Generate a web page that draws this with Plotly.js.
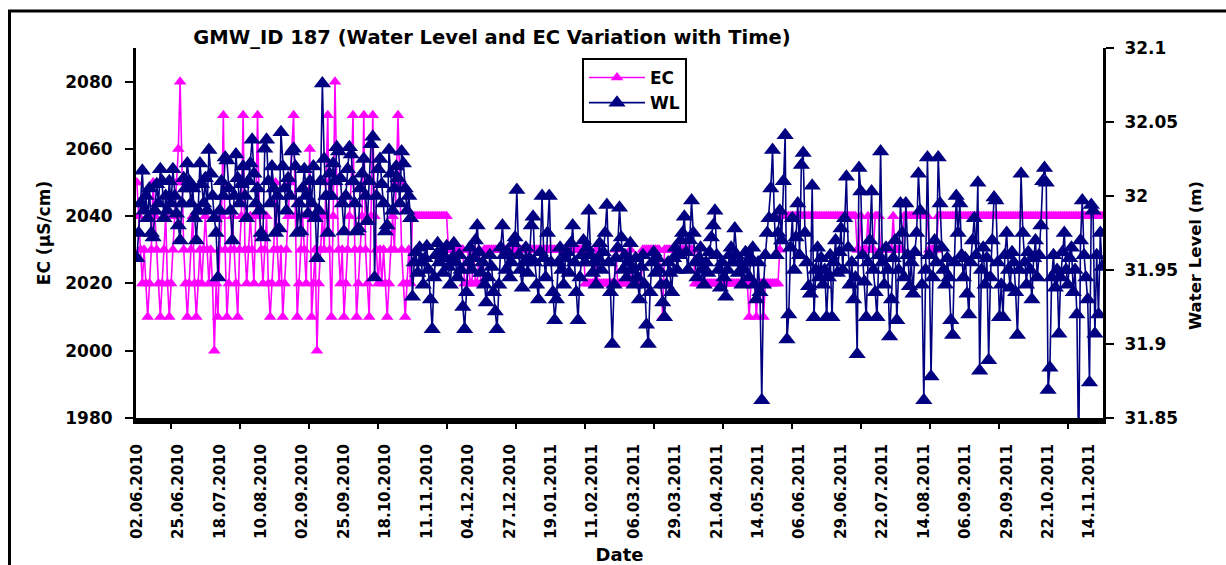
<!DOCTYPE html>
<html><head><meta charset="utf-8">
<script src="https://cdn.plot.ly/plotly-3.0.1.min.js"></script>
<style>html,body{margin:0;padding:0;background:#fff;}#chart{width:1226px;height:565px;}</style>
</head><body><div id="chart"></div>
<script>
// ---- categories (daily readings; one date missing in the record) ----
const startDate = '2010-06-02';
const missingDates = ['01.11.2010'];
const tickLabels = ['02.06.2010','25.06.2010','18.07.2010','10.08.2010','02.09.2010','25.09.2010','18.10.2010','11.11.2010','04.12.2010','27.12.2010','19.01.2011','11.02.2011','06.03.2011','29.03.2011','21.04.2011','14.05.2011','06.06.2011','29.06.2011','22.07.2011','14.08.2011','06.09.2011','29.09.2011','22.10.2011','14.11.2011'];
const ecTicks = [1980,2000,2020,2040,2060,2080];
const wlTicks = [31.85,31.9,31.95,32,32.05,32.1];
const wlTickText = ['31.85','31.9','31.95','32','32.05','32.1'];

// ---- EC (µS/cm) ----
const ec = [
2050,2040,2030,2020,2030,2020,2010,2020,2030,2050,
2040,2030,2020,2010,2020,2030,2040,2020,2010,2020,
2030,2040,2050,2060,2080,2050,2030,2020,2010,2020,
2030,2040,2020,2010,2020,2030,2020,2030,2040,2030,
2020,2030,2020,2000,2020,2010,2030,2040,2070,2030,
2010,2020,2030,2040,2030,2020,2010,2030,2040,2070,
2030,2020,2030,2040,2030,2020,2040,2070,2040,2030,
2020,2030,2040,2020,2010,2020,2030,2050,2030,2020,
2030,2010,2020,2030,2040,2050,2060,2070,2040,2010,
2020,2030,2040,2030,2020,2040,2060,2010,2020,2030,
2000,2020,2030,2040,2030,2050,2070,2030,2010,2040,
2080,2050,2030,2020,2030,2010,2020,2030,2040,2050,
2070,2030,2010,2020,2030,2040,2070,2030,2020,2010,
2040,2070,2040,2030,2020,2030,2020,2030,2020,2010,
2020,2030,2040,2030,2050,2070,2050,2030,2020,2010,
2020,2030,2020,2040,2040,2040,2040,2040,2040,2040,
2040,2040,2040,2040,2040,2040,2040,2040,2040,2040,
2040,2040,2040,2030,2030,2030,2030,2030,2030,2030,
2030,2030,2020,2020,2030,2020,2020,2030,2020,2020,
2030,2020,2020,2030,2030,2030,2030,2030,2030,2030,
2030,2030,2030,2030,2030,2030,2030,2030,2030,2030,
2030,2030,2030,2030,2030,2030,2030,2030,2030,2030,
2030,2030,2030,2030,2030,2030,2030,2030,2030,2030,
2030,2030,2030,2030,2030,2030,2030,2030,2030,2030,
2030,2030,2030,2030,2030,2030,2030,2030,2030,2020,
2020,2020,2020,2020,2020,2030,2020,2020,2020,2020,
2020,2020,2020,2020,2020,2020,2030,2020,2020,2020,
2020,2020,2020,2020,2030,2020,2020,2020,2020,2020,
2020,2030,2030,2030,2030,2030,2030,2030,2030,2030,
2030,2020,2010,2030,2030,2030,2030,2030,2030,2030,
2030,2030,2030,2030,2030,2030,2030,2030,2030,2030,
2020,2020,2020,2020,2020,2020,2020,2020,2020,2020,
2020,2020,2020,2020,2020,2020,2020,2020,2020,2020,
2020,2020,2020,2020,2020,2020,2020,2020,2020,2020,
2010,2020,2020,2020,2010,2020,2020,2020,2010,2020,
2020,2020,2020,2020,2020,2020,2020,2030,2040,2040,
2040,2040,2040,2040,2040,2040,2040,2040,2040,2040,
2040,2040,2040,2040,2040,2040,2040,2040,2040,2040,
2040,2040,2040,2040,2040,2040,2040,2040,2040,2040,
2040,2040,2040,2040,2040,2040,2040,2040,2040,2040,
2030,2030,2040,2030,2030,2030,2040,2030,2030,2030,
2040,2040,2040,2030,2030,2030,2030,2030,2030,2030,
2040,2030,2030,2030,2030,2030,2040,2040,2040,2040,
2040,2040,2040,2040,2040,2040,2040,2040,2040,2040,
2030,2030,2030,2030,2030,2040,2040,2040,2040,2040,
2040,2040,2040,2040,2040,2040,2040,2040,2040,2040,
2040,2040,2040,2040,2040,2040,2040,2040,2040,2040,
2040,2040,2040,2040,2040,2040,2040,2040,2040,2040,
2040,2040,2040,2040,2040,2040,2040,2040,2040,2040,
2040,2040,2040,2040,2040,2040,2040,2040,2040,2040,
2040,2040,2040,2040,2040,2040,2040,2040,2040,2040,
2040,2040,2040,2040,2040,2040,2040,2040,2040,2040,
2040,2040,2040,2040,2040,2040,2040,2040,2040,2040,
2040,2040,2040,2040,2040,2040,2040
];

// ---- Water level (m) ----
const wl = [
31.958,31.975,31.995,32.017,31.990,32.000,31.985,32.005,31.975,31.972,
31.990,32.008,31.995,32.018,32.010,31.985,32.000,31.990,32.010,31.995,
32.018,32.000,31.988,31.980,31.970,31.995,32.012,32.005,32.022,32.010,
31.995,32.005,31.985,31.970,31.990,32.022,32.008,31.995,32.012,31.990,
32.031,32.015,32.000,31.985,31.975,31.945,31.990,32.010,32.000,32.026,
32.024,32.005,31.990,31.970,32.000,32.028,32.012,31.995,32.008,32.020,
32.000,31.985,32.010,32.022,32.038,32.015,31.995,32.005,31.990,31.975,
31.972,32.032,32.038,32.010,31.995,32.020,32.005,31.975,32.000,31.978,
32.043,32.020,32.005,31.990,32.012,32.000,32.030,32.032,32.020,31.975,
31.995,31.976,32.005,32.018,32.000,31.988,32.010,31.995,32.020,31.985,
31.958,31.990,32.010,32.076,32.025,32.000,31.975,32.015,32.000,32.022,
32.010,32.033,32.030,32.012,31.995,31.976,32.000,32.018,32.033,32.028,
32.010,31.995,31.976,31.978,32.005,32.015,32.025,32.000,31.983,32.010,
32.035,32.040,31.945,32.000,32.018,32.025,32.008,31.995,31.976,31.980,
32.031,32.015,31.990,32.005,32.020,32.012,31.995,32.030,32.022,32.005,
31.990,32.000,31.985,31.932,31.955,31.962,31.948,31.965,31.955,31.940,
31.958,31.966,31.950,31.930,31.910,31.945,31.960,31.968,31.955,31.962,
31.948,31.958,31.966,31.952,31.940,31.958,31.968,31.955,31.945,31.960,
31.950,31.925,31.910,31.935,31.955,31.965,31.950,31.958,31.970,31.980,
31.962,31.948,31.955,31.940,31.928,31.945,31.960,31.952,31.935,31.922,
31.910,31.940,31.965,31.980,31.960,31.950,31.962,31.945,31.955,31.968,
31.972,32.004,31.960,31.950,31.938,31.955,31.965,31.948,31.958,31.980,
31.986,31.955,31.940,31.930,31.962,32.000,31.958,31.945,31.975,32.000,
31.955,31.935,31.916,31.930,31.955,31.965,31.950,31.940,31.958,31.962,
31.948,31.968,31.980,31.955,31.935,31.916,31.945,31.960,31.970,31.955,
31.965,31.990,31.960,31.948,31.955,31.940,31.958,31.968,31.950,31.962,
31.975,31.994,31.955,31.935,31.900,31.940,31.958,31.965,31.992,31.972,
31.950,31.960,31.945,31.955,31.968,31.950,31.940,31.958,31.945,31.930,
31.952,31.960,31.940,31.913,31.900,31.935,31.955,31.962,31.948,31.958,
31.950,31.940,31.928,31.918,31.940,31.955,31.948,31.935,31.958,31.965,
31.950,31.960,31.970,31.975,31.986,31.962,31.950,31.970,31.997,31.975,
31.955,31.945,31.958,31.965,31.950,31.940,31.955,31.948,31.962,31.972,
31.980,31.990,31.960,31.950,31.938,31.955,31.945,31.932,31.950,31.960,
31.965,31.955,31.978,31.960,31.948,31.955,31.940,31.950,31.962,31.955,
31.945,31.958,31.965,31.940,31.930,31.955,31.935,31.862,31.940,31.960,
31.975,31.985,32.005,32.031,31.985,31.960,31.975,31.990,31.970,32.010,
32.041,31.903,31.920,31.965,31.985,31.950,31.972,31.995,31.960,32.021,
32.029,31.975,31.955,31.939,31.934,32.007,31.918,31.950,31.965,31.945,
31.958,31.940,31.950,31.918,31.945,31.960,31.918,31.955,31.970,31.948,
31.962,31.978,31.950,31.985,32.013,31.965,31.940,31.955,31.930,31.945,
31.893,32.019,32.003,31.960,31.942,31.918,31.955,31.970,32.003,31.950,
31.935,31.918,31.960,32.030,31.955,31.940,31.965,31.950,31.905,31.930,
31.958,31.970,31.916,31.950,31.995,31.975,31.945,31.995,31.960,31.939,
31.955,31.934,31.962,31.975,32.015,31.990,31.940,31.862,31.950,32.026,
31.960,31.878,31.945,31.970,31.955,32.026,31.995,31.965,31.950,31.940,
31.958,31.945,31.916,31.906,31.955,32.000,31.975,31.995,31.960,31.945,
31.958,31.934,31.920,31.955,31.970,31.985,31.960,32.009,31.882,31.950,
31.965,31.940,31.958,31.889,31.945,31.970,31.999,31.997,31.955,31.918,
31.940,31.918,31.960,31.975,31.950,31.938,31.962,31.955,31.935,31.906,
31.950,32.015,31.975,31.955,31.940,31.962,31.950,31.930,31.958,31.970,
31.945,31.960,31.980,32.010,32.019,32.009,31.869,31.884,31.945,31.960,
31.938,31.950,31.907,31.945,31.962,31.975,31.950,31.940,31.958,31.965,
31.935,31.950,31.920,31.820,31.970,31.997,31.960,31.945,31.930,31.874,
31.994,31.990,31.907,31.960,31.920,31.975,31.952
];

// ---- build the category list of reading dates ----
function fmtDate(d){
  const dd = String(d.getUTCDate()).padStart(2,'0');
  const mm = String(d.getUTCMonth()+1).padStart(2,'0');
  return dd + '.' + mm + '.' + d.getUTCFullYear();
}
const dates = [];
let cur = new Date(startDate + 'T00:00:00Z');
while (dates.length < ec.length) {
  const s = fmtDate(cur);
  if (!missingDates.includes(s)) dates.push(s);
  cur = new Date(cur.getTime() + 86400000);
}

const FONT = 'DejaVu Sans, Verdana, Arial, sans-serif';
const N = dates.length;

const traces = [
  {
    type: 'scatter', mode: 'lines+markers', name: 'EC',
    x: dates, y: ec, xaxis: 'x', yaxis: 'y',
    line: {color: '#FF00FF', width: 1.6},
    marker: {symbol: 'triangle-up', size: 11, color: '#FF00FF'}
  },
  {
    type: 'scatter', mode: 'lines+markers', name: 'WL',
    x: dates, y: wl, xaxis: 'x', yaxis: 'y2',
    line: {color: '#000080', width: 1.6},
    marker: {symbol: 'triangle-up', size: 15, color: '#000080'}
  },
  { type: 'scatter', x: [], y: [], xaxis: 'x2', yaxis: 'y', showlegend: false, hoverinfo: 'skip' }
];

const px = v => (v - 136) / 967;
const py = v => (418 - v) / 370;

const layout = {
  width: 1226, height: 565,
  paper_bgcolor: '#fff', plot_bgcolor: '#fff',
  margin: {l: 136, r: 123, t: 48, b: 147, pad: 0},
  showlegend: true,
  font: {family: FONT, color: '#000', size: 16, weight: 'bold'},
  title: {
    text: 'GMW_ID 187 (Water Level and EC Variation with Time)',
    font: {family: FONT, size: 19.5, weight: 'bold', color: '#000'},
    x: px(492), xref: 'paper', xanchor: 'center',
    y: 1 - 37/565, yref: 'container', yanchor: 'middle'
  },
  xaxis: {
    type: 'category', range: [-0.5, N - 0.5],
    tickmode: 'array', tickvals: tickLabels, ticktext: tickLabels,
    tickangle: -90, ticks: '', ticklabelstandoff: 14,
    tickfont: {family: FONT, size: 15, weight: 'bold', color: '#000'},
    showline: true, linecolor: '#000', linewidth: 6,
    showgrid: false, zeroline: false,
    title: {text: 'Date', font: {family: FONT, size: 18, weight: 'bold', color: '#000'}, standoff: 13}
  },
  xaxis2: {
    overlaying: 'x', anchor: 'y', side: 'bottom', type: 'linear',
    range: [-0.5, N - 0.5], tickmode: 'linear', tick0: 18.9, dtick: 38.34,
    ticks: 'outside', ticklen: 10, tickwidth: 2, tickcolor: '#000',
    showticklabels: false, showgrid: false, zeroline: false, showline: false
  },
  yaxis: {
    range: [1980, 2090], tickmode: 'array', tickvals: ecTicks,
    ticks: 'outside', ticklen: 8, tickwidth: 2, tickcolor: '#000', ticklabelstandoff: 9,
    tickfont: {family: FONT, size: 17, weight: 'bold', color: '#000'},
    showline: true, linecolor: '#000', linewidth: 3,
    showgrid: false, zeroline: false,
    title: {text: 'EC (µS/cm)', font: {family: FONT, size: 17, weight: 'bold', color: '#000'}, standoff: 11}
  },
  yaxis2: {
    overlaying: 'y', side: 'right', anchor: 'x',
    range: [31.85, 32.1], tickmode: 'array', tickvals: wlTicks, ticktext: wlTickText,
    ticks: 'outside', ticklen: 8, tickwidth: 2, tickcolor: '#000', ticklabelstandoff: 7,
    tickfont: {family: FONT, size: 17, weight: 'bold', color: '#000'},
    showline: true, linecolor: '#000', linewidth: 3,
    showgrid: false, zeroline: false
  },
  legend: {
    x: px(582), y: py(58), xanchor: 'left', yanchor: 'top',
    bgcolor: '#fff', bordercolor: '#000', borderwidth: 2,
    font: {family: FONT, size: 17, weight: 'bold', color: '#000'},
    itemwidth: 56, tracegroupgap: 0
  },
  annotations: [
    {
      text: 'Water Level (m)', textangle: -90, showarrow: false,
      xref: 'paper', yref: 'paper', x: px(1195), y: py(256),
      xanchor: 'center', yanchor: 'middle',
      font: {family: FONT, size: 16.5, weight: 'bold', color: '#000'}
    }
  ],
  shapes: [
    {
      type: 'rect', xref: 'paper', yref: 'paper', layer: 'below',
      x0: px(9.5), x1: px(1260), y0: py(11), y1: py(620),
      line: {color: '#000', width: 3}, fillcolor: 'rgba(0,0,0,0)'
    }
  ]
};

Plotly.newPlot('chart', traces, layout, {displayModeBar: false, staticPlot: true});
</script>
</body></html>
